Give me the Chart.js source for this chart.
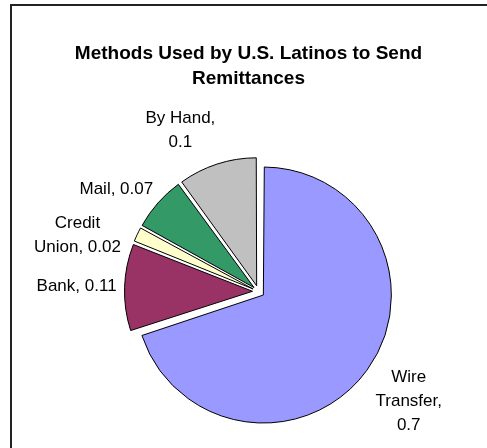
<!DOCTYPE html>
<html>
<head>
<meta charset="utf-8">
<script src="https://cdn.jsdelivr.net/npm/chart.js@4.4.0/dist/chart.umd.min.js"></script>
<style>
  html, body { margin: 0; padding: 0; background: #fff; overflow: hidden; }
  #wrap { position: relative; width: 487px; height: 448px; }
  #frame {
    position: absolute; left: 10px; top: 4px; width: 500px; height: 470px;
    border-left: 2px solid #222; border-top: 2px solid #222;
  }
  canvas { position: absolute; left: 0; top: 0; }
</style>
</head>
<body>
<div id="wrap">
  <div id="frame"></div>
  <canvas id="chartRemit" width="487" height="448"></canvas>
</div>
<script>
// How remittances are sent (share of senders)
const categories = ["Wire Transfer", "Bank", "Credit Union", "Mail", "By Hand"];
const shares = [0.7, 0.11, 0.02, 0.07, 0.1];
const sliceColors = ["#9999FF", "#993366", "#FFFFCC", "#339966", "#C0C0C0"];

// label wrap widths and hand tweaks so labels don't collide
const labelWrap = [75, 120, 90, 120, 80];
const labelNudge = [[2, 1], [8, -2], [-6, 15], [-2, 1], [-21, 0]];

const PIE_R = 128;
const EXPLODE = 24;   // arc offset; slices move EXPLODE / 4 px
const LABEL_FONT = "17px 'Liberation Sans', Arial, sans-serif";

function wrapText(ctx, text, maxW) {
  const words = text.split(" ");
  const lines = [];
  let cur = "";
  words.forEach(w => {
    const test = cur ? cur + " " + w : w;
    if (cur && ctx.measureText(test).width > maxW) {
      lines.push(cur);
      cur = w;
    } else {
      cur = test;
    }
  });
  if (cur) lines.push(cur);
  return lines;
}

// move the pie a bit right of the title centre
const plotShift = {
  id: "plotShift",
  afterLayout(chart) {
    const a = chart.chartArea;
    a.left += 20;
    a.width = a.right - a.left;
  }
};

// chart.js grows exploded arcs by offset/4 * (1 - sin(angle)); undo that so
// every slice keeps the same radius
const evenRadius = {
  id: "evenRadius",
  afterDatasetsUpdate(chart) {
    chart.getDatasetMeta(0).data.forEach(arc => {
      const grow = (EXPLODE / 4) * (1 - Math.sin(Math.min(Math.PI, arc.circumference)));
      arc.outerRadius = PIE_R - grow;
    });
  }
};

// "Name, value" labels outside each slice
const sliceLabels = {
  id: "sliceLabels",
  afterDatasetsDraw(chart) {
    const ctx = chart.ctx;
    const meta = chart.getDatasetMeta(0);
    const lh = 24, fs = 17, gap = 16;
    const capMid = fs * 0.358;
    ctx.save();
    ctx.font = LABEL_FONT;
    ctx.fillStyle = "#000";
    ctx.textAlign = "center";
    ctx.textBaseline = "alphabetic";
    meta.data.forEach((arc, i) => {
      const p = arc.getProps(["x", "y", "startAngle", "endAngle"], true);
      const mid = (p.startAngle + p.endAngle) / 2;
      const ux = Math.cos(mid), uy = Math.sin(mid);
      const shift = EXPLODE / 4;
      const cx = p.x + ux * shift, cy = p.y + uy * shift;
      const lines = wrapText(ctx, categories[i] + ", " + shares[i], labelWrap[i]);
      const w = Math.max(...lines.map(l => ctx.measureText(l).width));
      const h = (lines.length - 1) * lh + fs;
      const bx = cx + ux * (PIE_R + gap) + ux * w / 2 + labelNudge[i][0];
      const by = cy + uy * (PIE_R + gap) + uy * h / 2 + labelNudge[i][1];
      lines.forEach((l, k) => {
        ctx.fillText(l, bx, by + (k - (lines.length - 1) / 2) * lh + capMid);
      });
    });
    ctx.restore();
  }
};

new Chart(document.getElementById("chartRemit"), {
  type: "pie",
  data: {
    labels: categories,
    datasets: [{
      data: shares,
      backgroundColor: sliceColors,
      borderColor: "#000",
      borderWidth: 1,
      offset: EXPLODE,
      radius: PIE_R
    }]
  },
  options: {
    responsive: false,
    animation: false,
    layout: { padding: { left: 10, right: 0, top: 11, bottom: 6 } },
    plugins: {
      legend: { display: false },
      tooltip: { enabled: false },
      title: {
        display: true,
        text: ["Methods Used by U.S. Latinos to Send", "Remittances"],
        color: "#000",
        font: { family: "'Liberation Sans', Arial, sans-serif", size: 19, weight: "bold", lineHeight: 25 / 19 },
        padding: { top: 30, bottom: 50 }
      }
    }
  },
  plugins: [plotShift, evenRadius, sliceLabels]
});
</script>
</body>
</html>
